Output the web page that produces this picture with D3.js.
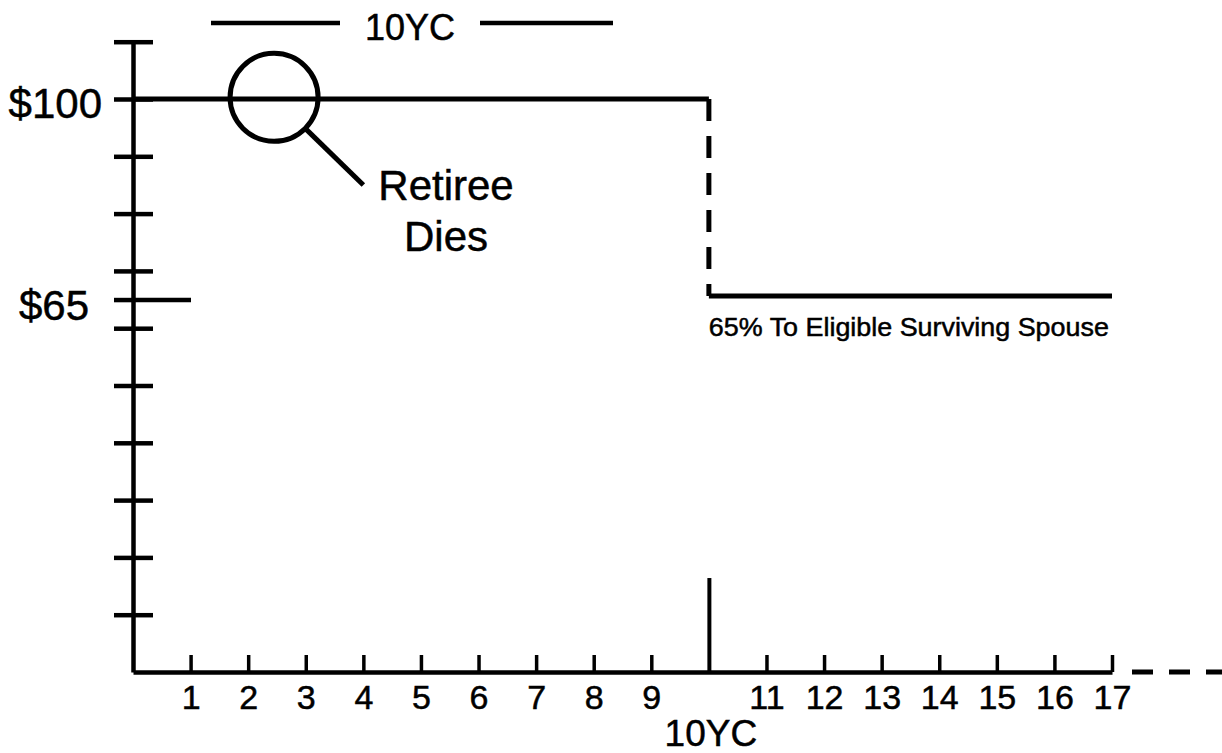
<!DOCTYPE html>
<html>
<head>
<meta charset="utf-8">
<script src="https://cdn.jsdelivr.net/npm/d3@7"></script>
<style>
  body { margin: 0; background: #fff; }
  svg text { font-family: "Liberation Sans", Arial, Helvetica, sans-serif; fill: #000; stroke: #000; stroke-width: 0.5px; }
</style>
</head>
<body>
<div id="chart"></div>
<script>
// years on the bottom axis (10 has no number, it gets the 10YC label instead)
const yearTicks = [1, 2, 3, 4, 5, 6, 7, 8, 9, 10, 11, 12, 13, 14, 15, 16, 17];
const yearLabels = ["1", "2", "3", "4", "5", "6", "7", "8", "9", "", "11", "12", "13", "14", "15", "16", "17"];

// dollar ticks on the left axis
const dollarTicks = [10, 20, 30, 40, 50, 60, 65, 70, 80, 90, 100, 110];
const dollarLabels = ["$100", "$65"];
const dollarLabelValues = [100, 65];

// benefit paid: retiree, then spouse after the certain period
const certainYears = 10;
const retireeBenefit = [[0, 100], [10, 100]];
const benefitDrop = [[10, 100], [10, 65.6]];
const spouseBenefit = [[10, 65.6], [17, 65.6]];

// where the retiree dies (circled)
const deathPoint = [2.45, 100.3];

const W = 1222, H = 753;

const svg = d3.select("#chart")
  .append("svg")
  .attr("width", W)
  .attr("height", H);

const x = d3.scaleLinear().domain([0, 17]).range([133, 1112]);
const y = d3.scaleLinear().domain([0, 110]).range([672, 41.7]);

// y axis, ticks cross the axis line
const yAxis = svg.append("g")
  .attr("transform", `translate(${x(0)},0)`)
  .call(d3.axisLeft(y)
    .tickValues(dollarTicks)
    .tickSize(19)
    .tickSizeOuter(0)
    .tickFormat(""));

yAxis.select(".domain").attr("stroke", "#000").attr("stroke-width", 4.5);
yAxis.selectAll(".tick line").attr("stroke", "#000").attr("stroke-width", 4.5);
yAxis.selectAll(".tick")
  .append("line")
  .attr("x2", d => d === 65 ? 58 : 20)
  .attr("stroke", "#000")
  .attr("stroke-width", 4.5);

// $ labels
svg.selectAll(".dollar-label")
  .data(dollarLabels)
  .join("text")
  .attr("class", "dollar-label")
  .attr("x", (d, i) => i === 0 ? 102 : 89)
  .attr("y", (d, i) => y(dollarLabelValues[i]) + (i === 0 ? 19 : 20))
  .attr("text-anchor", "end")
  .style("font-size", "42px")
  .text(d => d);

// x axis, ticks point up
const xAxis = svg.append("g")
  .attr("transform", `translate(0,${y(0)})`)
  .call(d3.axisBottom(x)
    .tickValues(yearTicks)
    .tickSize(-17)
    .tickSizeOuter(0)
    .tickPadding(13)
    .tickFormat((d, i) => yearLabels[i]));

xAxis.attr("font-size", null).attr("font-family", null);
xAxis.select(".domain").attr("stroke", "#000").attr("stroke-width", 4.5);
xAxis.selectAll(".tick line").attr("stroke", "#000").attr("stroke-width", 3.5);
xAxis.selectAll(".tick text").style("font-size", "34px");

// long mark at the end of the certain period
xAxis.selectAll(".tick")
  .filter(d => d === certainYears)
  .select("line")
  .attr("y2", y(16.4) - y(0))
  .attr("stroke-width", 4);

// axis keeps going past 17
svg.append("line")
  .attr("x1", x(17) + 20)
  .attr("x2", W + 5)
  .attr("y1", y(0))
  .attr("y2", y(0))
  .attr("stroke", "#000")
  .attr("stroke-width", 5)
  .attr("stroke-dasharray", "21 16");

svg.append("text")
  .attr("x", x(certainYears) + 2)
  .attr("y", 746)
  .attr("text-anchor", "middle")
  .style("font-size", "37px")
  .text("10YC");

// benefit lines
const line = d3.line().x(d => x(d[0])).y(d => y(d[1]));

svg.append("path")
  .datum(retireeBenefit)
  .attr("d", line)
  .attr("fill", "none")
  .attr("stroke", "#000")
  .attr("stroke-width", 5);

svg.append("path")
  .datum(benefitDrop)
  .attr("d", line)
  .attr("fill", "none")
  .attr("stroke", "#000")
  .attr("stroke-width", 5)
  .attr("stroke-dasharray", "22 15");

svg.append("path")
  .datum(spouseBenefit)
  .attr("d", line)
  .attr("fill", "none")
  .attr("stroke", "#000")
  .attr("stroke-width", 5);

svg.append("text")
  .attr("x", x(certainYears))
  .attr("y", 336)
  .attr("textLength", 400)
  .attr("lengthAdjust", "spacingAndGlyphs")
  .style("font-size", "26px")
  .text("65% To Eligible Surviving Spouse");

// retiree dies callout
const r = 44;
svg.append("circle")
  .attr("cx", x(deathPoint[0]))
  .attr("cy", y(deathPoint[1]))
  .attr("r", r)
  .attr("fill", "none")
  .attr("stroke", "#000")
  .attr("stroke-width", 5);

svg.append("line")
  .attr("x1", x(deathPoint[0]) + r * Math.SQRT1_2)
  .attr("y1", y(deathPoint[1]) + r * Math.SQRT1_2)
  .attr("x2", x(4))
  .attr("y2", y(85))
  .attr("stroke", "#000")
  .attr("stroke-width", 5);

svg.append("text")
  .attr("x", 446)
  .attr("y", 200)
  .attr("text-anchor", "middle")
  .style("font-size", "42px")
  .text("Retiree");

svg.append("text")
  .attr("x", 446)
  .attr("y", 251)
  .attr("text-anchor", "middle")
  .style("font-size", "42px")
  .text("Dies");

// 10 year certain bracket at the top
svg.append("line")
  .attr("x1", 211).attr("x2", 340)
  .attr("y1", 23).attr("y2", 23)
  .attr("stroke", "#000")
  .attr("stroke-width", 4.5);

svg.append("line")
  .attr("x1", 480).attr("x2", 613)
  .attr("y1", 23).attr("y2", 23)
  .attr("stroke", "#000")
  .attr("stroke-width", 4.5);

svg.append("text")
  .attr("x", 410)
  .attr("y", 40)
  .attr("text-anchor", "middle")
  .style("font-size", "36px")
  .text("10YC");
</script>
</body>
</html>
